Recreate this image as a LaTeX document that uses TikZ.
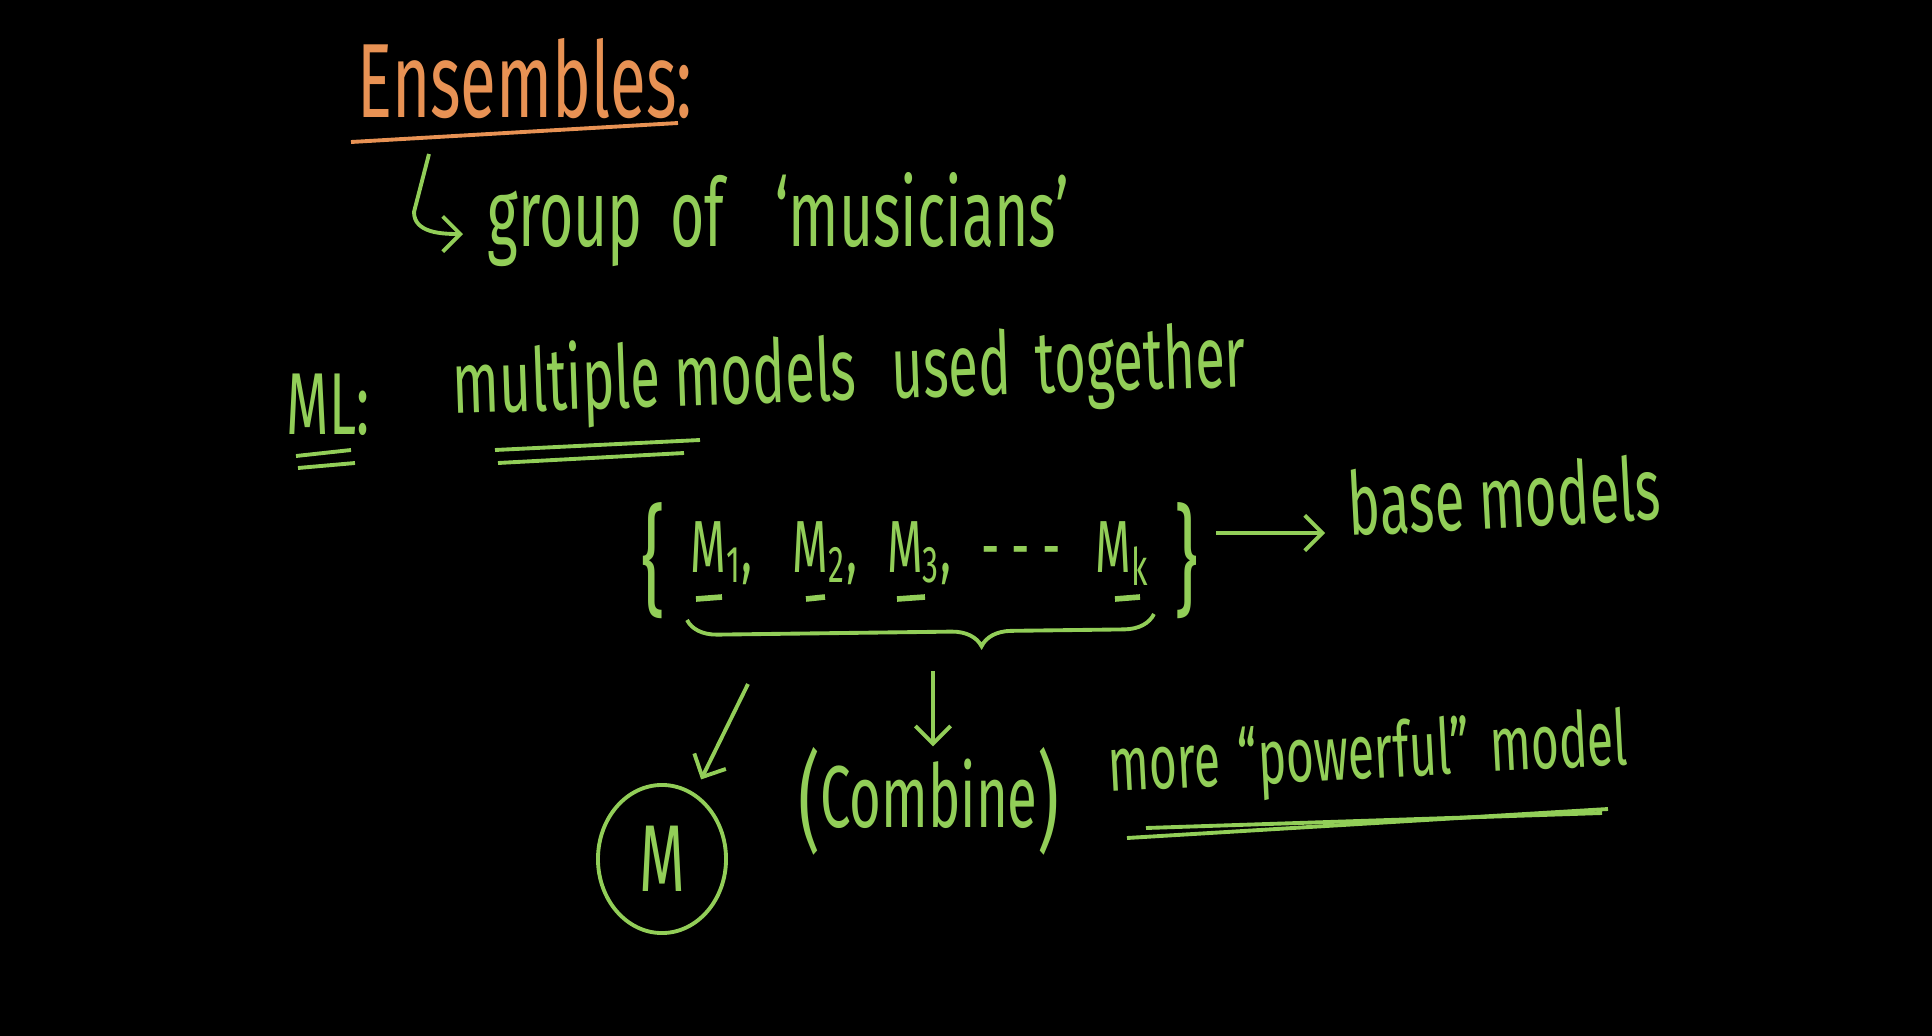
\documentclass[tikz,border=0pt]{standalone}
\usepackage{fontspec}
\setmainfont{Fira Sans}[FakeStretch=0.62]
\usetikzlibrary{
    arrows.meta,
    calc,
    decorations.pathreplacing,
    positioning,
    shapes.geometric
}
\definecolor{board}{RGB}{0,0,0}
\definecolor{chalkgreen}{RGB}{146,206,88}
\definecolor{chalkorange}{RGB}{232,146,84}
\tikzset{
    line cap=round,
    line join=round,
    hand/.style={
        font=\fontsize{25}{30}\selectfont,
        text=chalkgreen,
        inner sep=0pt
    },
    headline/.style={
        hand,
        font=\fontsize{30}{36}\selectfont,
        text=chalkorange
    },
    stroke/.style={
        draw=chalkgreen,
        line width=1.1pt
    },
    orangestroke/.style={
        stroke,
        draw=chalkorange
    },
    handarrow/.style={
        stroke,
        -{Straight Barb[length=5pt, width=10pt]}
    },
    curlybrace/.style={
        stroke,
        decorate,
        decoration={brace, mirror, amplitude=0.3cm, aspect=0.63}
    },
    circled/.style={
        hand,
        ellipse,
        draw=chalkgreen,
        line width=1.1pt,
        minimum width=1.28cm,
        minimum height=1.48cm,
        font=\fontsize{27}{30}\selectfont
    }
}
\newcommand{\bigbrace}[1]{\raisebox{-0.3cm}{\fontsize{34}{34}\selectfont#1}}

\begin{document}
\begin{tikzpicture}[x=0.01cm, y=-0.01cm]

% --- Board ---
\fill[board] (0,0) rectangle (1932,1036);
\useasboundingbox (0,0) rectangle (1932,1036);

% --- Title ---
\node[headline, anchor=base west] (ensembles) at (357,117) {Ensembles:};
\draw[orangestroke] (351,142) -- (678,123);

\node[hand, anchor=base west, font=\fontsize{27}{32}\selectfont] (group) at (487,246)
    {group\hspace{0.12cm} of\hspace{0.35cm} ‘musicians’};
\coordinate (hooktop) at (429,154);
\draw[handarrow] (hooktop) -- (414,212) to[out=-90, in=180] ($(group.base west)+(-24,-12)$);

% --- ML line ---
\node[hand, anchor=base west] (ml) at (286,434) {ML:};
\draw[stroke] (296,456) -- (351,450);
\draw[stroke] (298,468) -- (355,463);

\node[hand, anchor=base west, rotate=2] (together) at (453,414) {multiple models\hspace{0.35cm}used\hspace{0.25cm}together};
\draw[stroke] (495,450) -- (700,440);
\draw[stroke] (498,463) -- (684,453);

% --- Base models ---
\node[hand, anchor=base west, font=\fontsize{21}{25}\selectfont] (models) at (641,572)
    {\bigbrace{\{}\hspace{0.25cm}M\textsubscript{1},\hspace{0.4cm}M\textsubscript{2},\hspace{0.3cm}M\textsubscript{3},\hspace{0.3cm}-\hspace{0.12cm}-\hspace{0.12cm}-\hspace{0.35cm}M\textsubscript{k}\hspace{0.25cm}\bigbrace{\}}};
\foreach \xa/\xb in {696/722, 806/825, 897/925, 1115/1140}
    \draw[stroke, line width=1.6pt] (\xa,599) -- (\xb,597);

\node[hand, anchor=base west, rotate=3] (base) at (1349,536) {base models};
\coordinate (setright) at (1216,533);
\draw[handarrow] (setright) -- ($(base.base west)+(-24,-3)$);

% --- Combination ---
\coordinate (bracel) at (687,620);
\coordinate (bracer) at (1154,614);
\draw[curlybrace] (bracel) -- (bracer);

\node[circled] (single) at (662,859) {M};
\node[hand, font=\fontsize{25}{30}\selectfont] (combine) at (929,801)
    {\raisebox{-0.12cm}{\fontsize{31}{31}\selectfont(}Combine\raisebox{-0.12cm}{\fontsize{31}{31}\selectfont)}};

\coordinate (fromleft) at (748,684);
\coordinate (fromtip) at (933,671);
\draw[handarrow, shorten >=0.15cm] (fromleft) -- (single);
\draw[handarrow] (fromtip) -- (fromtip |- combine.north);

\node[hand, anchor=base west, rotate=3, font=\fontsize{22}{27}\selectfont] (powerful) at (1109,792)
    {more \hspace{0.05cm}“powerful”\hspace{0.2cm}model};
\draw[stroke] (1127,838) -- (1608,809);
\draw[stroke] (1146,828) -- (1602,813);

\end{tikzpicture}
\end{document}
